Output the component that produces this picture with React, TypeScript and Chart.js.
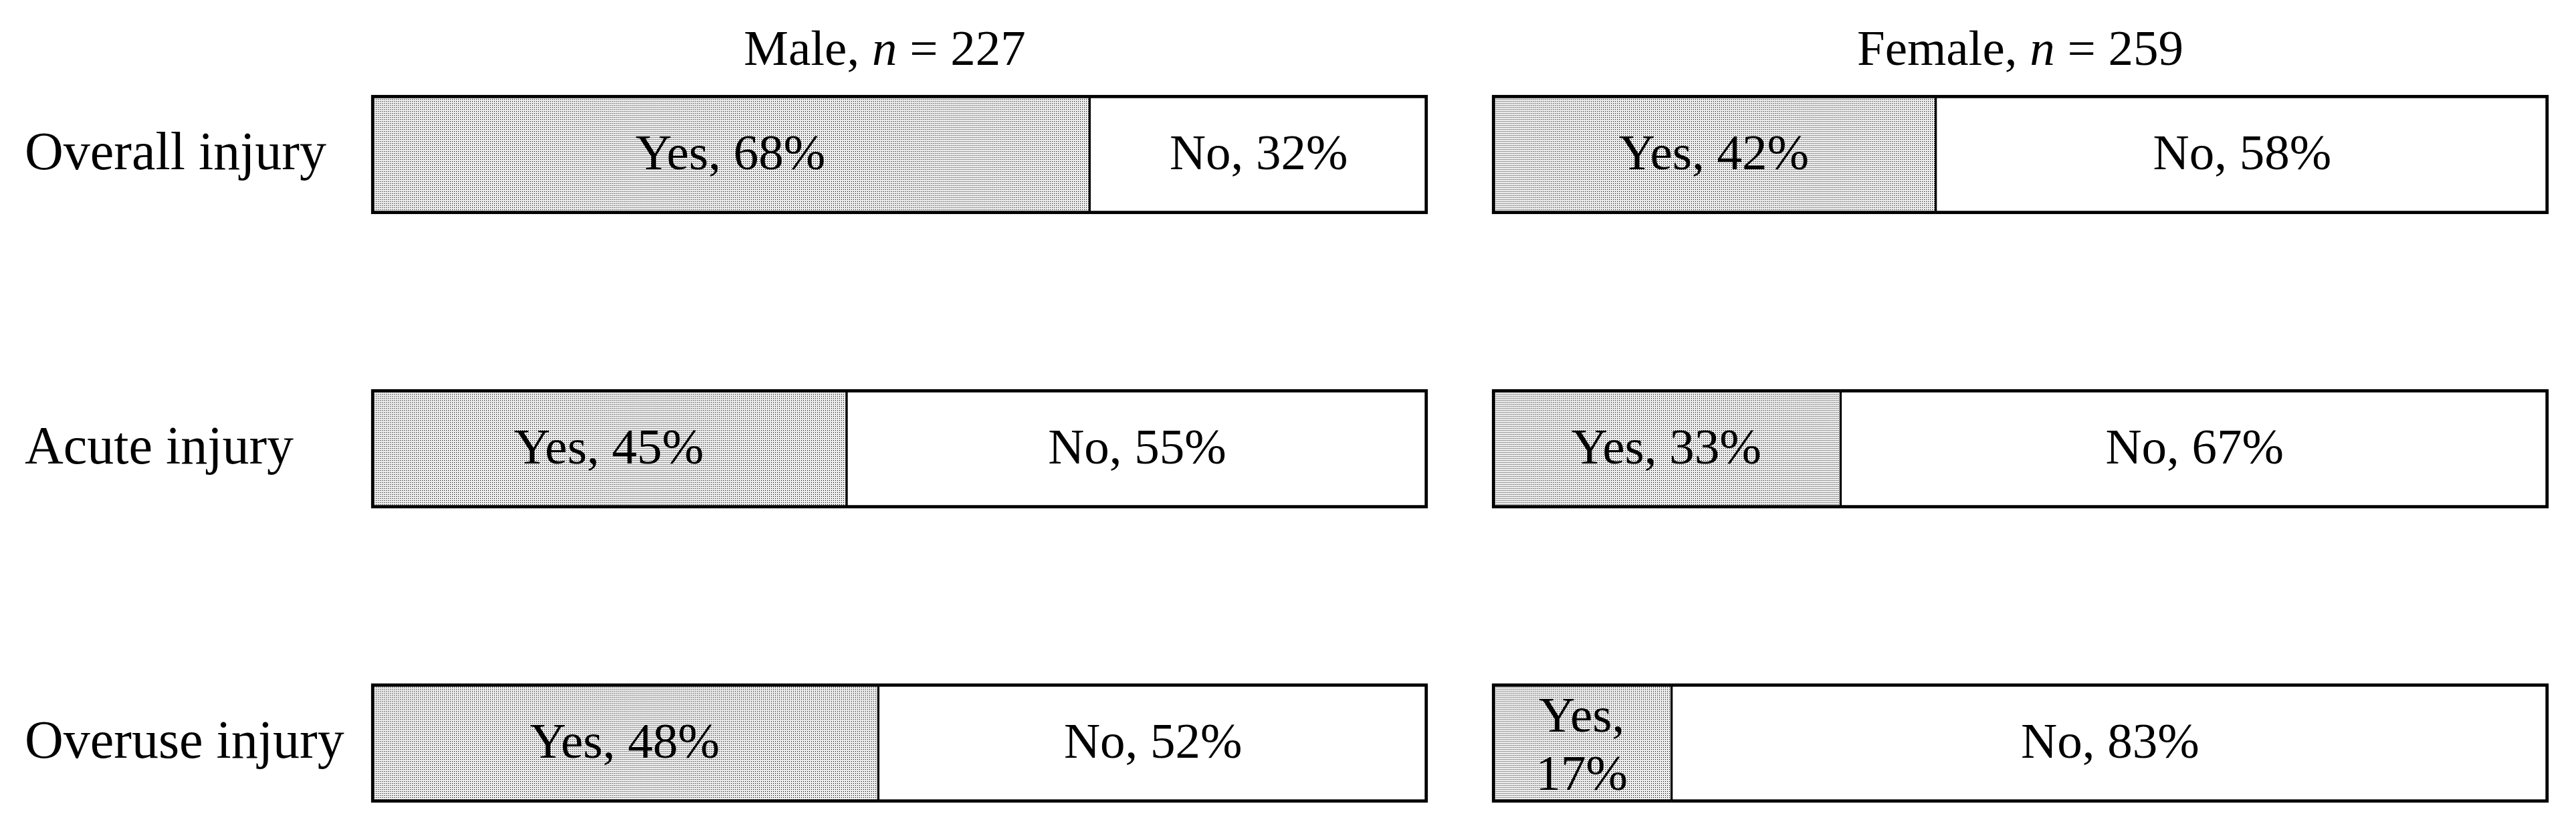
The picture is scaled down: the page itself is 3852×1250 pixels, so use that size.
import { useEffect, useRef } from 'react';
import { Chart, registerables } from 'chart.js';

Chart.register(...registerables);

// Injury prevalence by sex (percent of players)
const categories = ['Overall injury', 'Acute injury', 'Overuse injury'];
const responses = ['Yes', 'No'];
const maleYes = [68, 45, 48];
const maleNo = [32, 55, 52];
const femaleYes = [42, 33, 17];
const femaleNo = [58, 67, 83];
const groupNames = ['Male', 'Female'];
const groupSizes = [227, 259];

const FONT = '"Liberation Serif", "Times New Roman", serif';
const CANVAS_H = 1250;

// Light dotted screen used for the "Yes" segments
function makeDotPattern(): CanvasPattern | string {
  const tile = document.createElement('canvas');
  tile.width = 3;
  tile.height = 3;
  const c = tile.getContext('2d');
  if (!c) return '#d2d2d2';
  c.fillStyle = '#ececec';
  c.fillRect(0, 0, 3, 3);
  c.fillStyle = '#000000';
  c.fillRect(1, 1, 1, 1);
  const p = c.createPattern(tile, 'repeat');
  return p ?? '#d2d2d2';
}

// Writes "Yes, 68%" style labels inside each segment; wraps onto two lines when narrow
const segmentLabels = {
  id: 'segmentLabels',
  afterDatasetsDraw(chart: any) {
    const ctx = chart.ctx as CanvasRenderingContext2D;
    ctx.save();
    ctx.font = `75px ${FONT}`;
    ctx.fillStyle = '#000';
    ctx.textAlign = 'center';
    ctx.textBaseline = 'alphabetic';
    chart.data.datasets.forEach((ds: any, di: number) => {
      const meta = chart.getDatasetMeta(di);
      meta.data.forEach((bar: any, i: number) => {
        const { x, y, base } = bar.getProps(['x', 'y', 'base'], true);
        const left = Math.min(x, base);
        const right = Math.max(x, base);
        const cx = (left + right) / 2;
        const value = ds.data[i];
        const text = `${ds.label}, ${value}%`;
        if (ctx.measureText(text).width > right - left - 20) {
          ctx.fillText(`${ds.label},`, cx, y - 17);
          ctx.fillText(`${value}%`, cx, y + 70);
        } else {
          ctx.fillText(text, cx, y + 22);
        }
      });
    });
    ctx.restore();
  },
};

// Panel heading with an italic sample-size symbol, centred over the plot area
const panelTitle = {
  id: 'panelTitle',
  afterDraw(chart: any, _args: any, opts: any) {
    const ctx = chart.ctx as CanvasRenderingContext2D;
    const area = chart.chartArea;
    const parts: [string, string][] = [
      [`${opts.name}, `, 'normal'],
      ['n', 'italic'],
      [` = ${opts.size}`, 'normal'],
    ];
    ctx.save();
    ctx.fillStyle = '#000';
    ctx.textBaseline = 'alphabetic';
    ctx.textAlign = 'left';
    let total = 0;
    const widths = parts.map(([t, style]) => {
      ctx.font = `${style} 75px ${FONT}`;
      const w = ctx.measureText(t).width;
      total += w;
      return w;
    });
    let xPos = (area.left + area.right) / 2 + (opts.shift || 0) - total / 2;
    parts.forEach(([t, style], k) => {
      ctx.font = `${style} 75px ${FONT}`;
      ctx.fillText(t, xPos, opts.baseline);
      xPos += widths[k];
    });
    ctx.restore();
  },
};

function buildConfig(
  group: number,
  yes: number[],
  no: number[],
  pattern: CanvasPattern | string,
  withCategories: boolean,
  padding: { left: number; right: number; top: number; bottom: number },
  axisWidth: number,
  titleShift: number
): any {
  return {
    type: 'bar',
    data: {
      labels: categories,
      datasets: [
        {
          label: responses[0],
          data: yes,
          backgroundColor: pattern,
          borderColor: '#000',
          borderWidth: { top: 5, bottom: 5, left: 5, right: 2 },
          borderSkipped: false,
          barThickness: 178,
          clip: false,
        },
        {
          label: responses[1],
          data: no,
          backgroundColor: '#ffffff',
          borderColor: '#000',
          borderWidth: { top: 5, bottom: 5, left: 2, right: 5 },
          borderSkipped: false,
          barThickness: 178,
          clip: false,
        },
      ],
    },
    options: {
      indexAxis: 'y',
      responsive: false,
      animation: false,
      layout: { padding },
      scales: {
        x: { stacked: true, min: 0, max: 100, display: false },
        y: {
          stacked: true,
          offset: false,
          display: withCategories,
          grid: { display: false, drawTicks: false },
          border: { display: false },
          ticks: {
            crossAlign: 'far',
            color: '#000',
            labelOffset: 1,
            font: { family: FONT, size: 80 },
          },
          afterFit: (scale: any) => {
            scale.width = axisWidth;
          },
        },
      },
      plugins: {
        legend: { display: false },
        tooltip: { enabled: false },
        title: { display: false },
        panelTitle: {
          name: groupNames[group],
          size: groupSizes[group],
          baseline: 97,
          shift: titleShift,
        },
      },
    },
    plugins: [segmentLabels, panelTitle],
  };
}

export default function App() {
  const leftRef = useRef<HTMLCanvasElement>(null);
  const rightRef = useRef<HTMLCanvasElement>(null);

  useEffect(() => {
    if (!leftRef.current || !rightRef.current) return;
    const pattern = makeDotPattern();
    const male = new Chart(
      leftRef.current,
      buildConfig(0, maleYes, maleNo, pattern, true, { left: 37, right: 45, top: 231, bottom: 139 }, 518, -22)
    );
    const female = new Chart(
      rightRef.current,
      buildConfig(1, femaleYes, femaleNo, pattern, false, { left: 51, right: 41, top: 231, bottom: 139 }, 0, 0)
    );
    return () => {
      male.destroy();
      female.destroy();
    };
  }, []);

  return (
    <div
      style={{
        position: 'absolute',
        left: 0,
        top: 0,
        width: 3852,
        height: CANVAS_H,
        background: '#ffffff',
      }}
    >
      <canvas
        ref={leftRef}
        width={2180}
        height={CANVAS_H}
        style={{ position: 'absolute', left: 0, top: 0, width: 2180, height: CANVAS_H }}
      />
      <canvas
        ref={rightRef}
        width={1672}
        height={CANVAS_H}
        style={{ position: 'absolute', left: 2180, top: 0, width: 1672, height: CANVAS_H }}
      />
    </div>
  );
}
